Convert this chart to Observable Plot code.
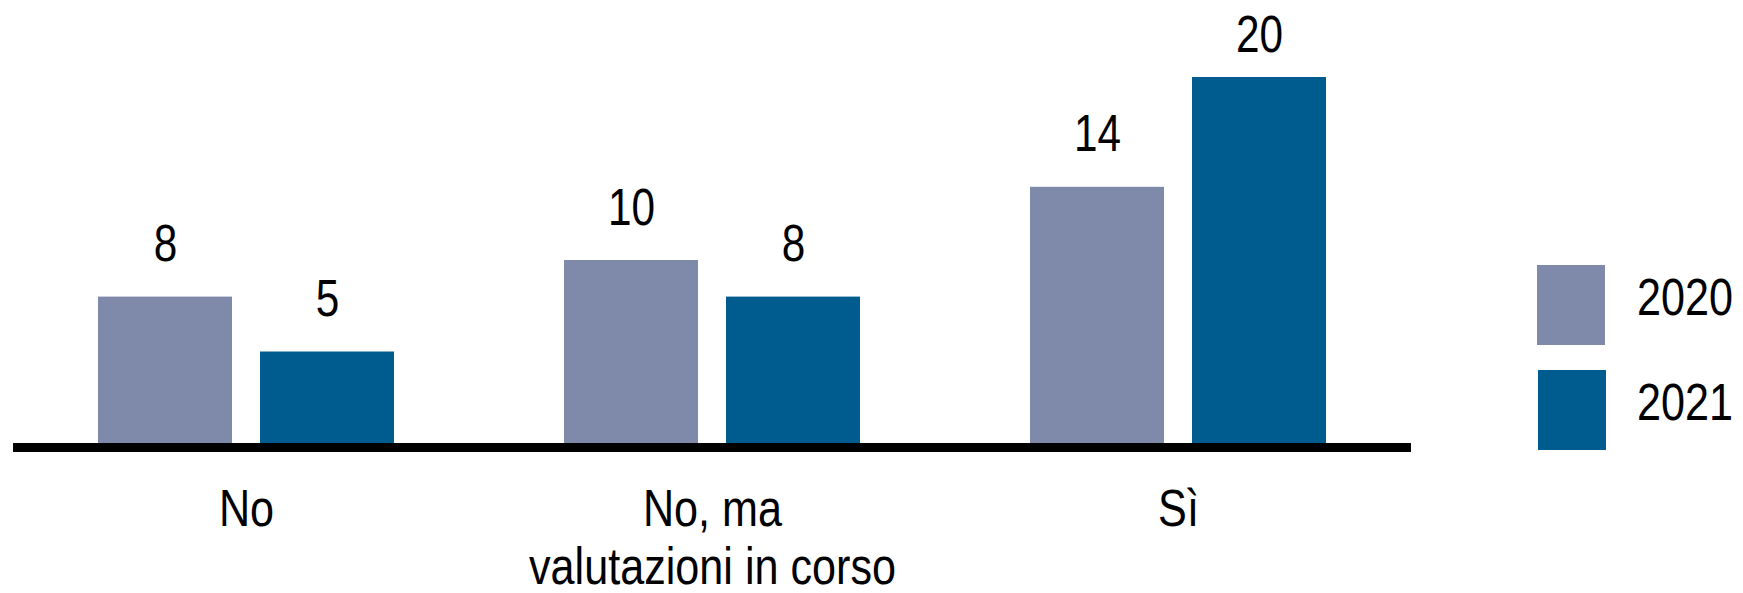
<!DOCTYPE html>
<html><head><meta charset="utf-8">
<script src="https://cdn.jsdelivr.net/npm/d3@7"></script>
<script src="https://cdn.jsdelivr.net/npm/@observablehq/plot@0.6"></script>
<style>
html,body{margin:0;padding:0;background:#fff;}
#wrap{position:relative;width:1743px;height:593px;font-family:"Liberation Sans",Arial,sans-serif;}
.sw{position:absolute;}
.lt{position:absolute;font-size:52px;line-height:52px;color:#000;transform:scaleX(0.83);transform-origin:left center;white-space:nowrap;}
</style></head><body><div id="wrap"></div>
<script>
const categories = ["No", "No, ma\nvalutazioni in corso", "Sì"];
const years = ["2020", "2021"];
const values2020 = [8, 10, 14];
const values2021 = [5, 8, 20];
const colors = ["#7f8aab", "#005c8f"];

const data = [];
categories.forEach((c, i) => {
  data.push({category: c, year: years[0], value: values2020[i]});
  data.push({category: c, year: years[1], value: values2021[i]});
});
const maxV = d3.max(data, d => d.value);
const font = '"Liberation Sans",Arial,sans-serif';
const narrow = 0.83;

const chart = Plot.plot({
  width: 1743, height: 593,
  marginLeft: 13, marginRight: 331, marginTop: 77, marginBottom: 150,
  style: {fontFamily: font, background: "white", color: "#000"},
  fx: {domain: categories, paddingInner: 0.36, paddingOuter: 0.18, label: null},
  x: {domain: years, paddingInner: 0.17, paddingOuter: 0, axis: null},
  y: {domain: [0, 20], axis: null},
  color: {domain: years, range: colors},
  marks: [
    Plot.barY(data, {fx: "category", x: "year", y: "value", fill: "year"}),
    Plot.ruleY([0], {stroke: "#000", strokeWidth: 9, dy: 4, insetLeft: -84, insetRight: -84}),
    Plot.text(data.filter(d => d.value < maxV), {fx: "category", x: "year", y: "value", text: d => String(d.value), lineAnchor: "bottom", dy: -36, fontSize: 51, fill: "#000"}),
    Plot.text(data.filter(d => d.value === maxV), {fx: "category", x: "year", y: "value", text: d => String(d.value), lineAnchor: "bottom", dy: -26, fontSize: 51, fill: "#000"}),
    Plot.axisFx({anchor: "bottom", tickSize: 0, tickPadding: 41, fontSize: 52, lineHeight: 1.12, label: null, fill: "#000"})
  ]
});
// condense the glyphs horizontally (the reference uses a narrow typeface)
chart.querySelectorAll("text").forEach(t => {
  const tr = t.getAttribute("transform") || "";
  const xa = t.getAttribute("x");
  let x = 0;
  if (xa !== null && !isNaN(+xa)) { x = +xa; t.removeAttribute("x"); }
  t.setAttribute("transform", `${tr} translate(${x},0) scale(${narrow},1)`);
});
const wrap = document.getElementById("wrap");
wrap.appendChild(chart);

const legendPos = [{sx: 1537, sy: 265, tx: 1637, ty: 271}, {sx: 1538, sy: 370, tx: 1637, ty: 376}];
years.forEach((y, i) => {
  const p = legendPos[i];
  const s = document.createElement("div");
  s.className = "sw";
  s.style.cssText = `left:${p.sx}px;top:${p.sy}px;width:68px;height:80px;background:${colors[i]};`;
  wrap.appendChild(s);
  const t = document.createElement("div");
  t.className = "lt";
  t.style.left = p.tx + "px";
  t.style.top = p.ty + "px";
  t.textContent = y;
  wrap.appendChild(t);
});
</script></body></html>
